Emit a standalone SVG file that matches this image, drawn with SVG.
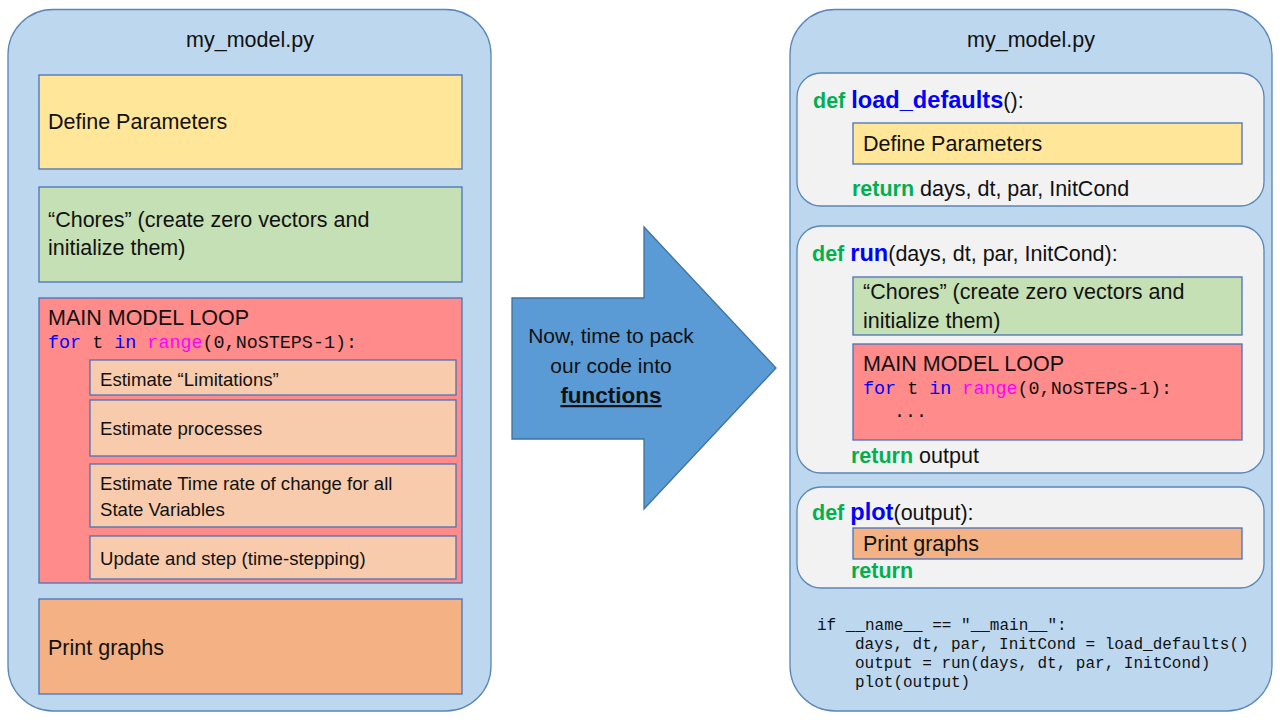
<svg xmlns="http://www.w3.org/2000/svg" width="1280" height="720" viewBox="0 0 1280 720">
<style>
.panel{fill:#BDD7EE;stroke:#5A86B8;stroke-width:1.3}
.func{fill:#F2F2F2;stroke:#5A86B8;stroke-width:1.3}
.box{stroke:#4A72B8;stroke-width:1.3}
.yel{fill:#FFE699}.grn{fill:#C5E0B4}.red{fill:#FF8B8B}.sub{fill:#F8CBAD}.org{fill:#F4B183}
text{font-family:"Liberation Sans",Arial,sans-serif;fill:#111}
.t{font-size:21.5px}.s{font-size:18.6px}
.mono{font-family:"Liberation Mono","Courier New",monospace;font-size:18.4px}
.code{font-family:"Liberation Mono","Courier New",monospace;font-size:16px}
.kw{fill:#0000FF}.rg{fill:#FF00FF}
.g{fill:#00B050;font-weight:bold}
.fn{fill:#0000FF;font-weight:bold;font-size:23.6px}
</style>
<rect width="1280" height="720" fill="#FFFFFF"/>

<g id="left-panel">
<rect class="panel" x="8" y="9.5" width="483" height="701.5" rx="45"/>
<text class="t" x="250" y="47" text-anchor="middle">my_model.py</text>
</g>
<g id="left-define">
<rect class="box yel" x="39" y="75" width="423" height="94"/>
<text class="t" x="48" y="129">Define Parameters</text>
</g>
<g id="left-chores">
<rect class="box grn" x="39" y="187" width="423" height="95"/>
<text class="t" x="48" y="227">“Chores” (create zero vectors and</text>
<text class="t" x="48" y="255">initialize them)</text>
</g>
<g id="left-loop">
<rect class="box red" x="39" y="298" width="423" height="285"/>
<text class="t" x="48" y="325">MAIN MODEL LOOP</text>
<text class="mono" x="48" y="348"><tspan class="kw">for</tspan> t <tspan class="kw">in</tspan> <tspan class="rg">range</tspan>(0,NoSTEPS-1):</text>
</g>
<g id="left-limitations">
<rect class="box sub" x="90" y="360" width="366" height="35"/>
<text class="s" x="100" y="386">Estimate “Limitations”</text>
</g>
<g id="left-processes">
<rect class="box sub" x="90" y="400" width="366" height="56"/>
<text class="s" x="100" y="435">Estimate processes</text>
</g>
<g id="left-rate">
<rect class="box sub" x="90" y="464" width="366" height="63"/>
<text class="s" x="100" y="490">Estimate Time rate of change for all</text>
<text class="s" x="100" y="516">State Variables</text>
</g>
<g id="left-update">
<rect class="box sub" x="90" y="536" width="366" height="43"/>
<text class="s" x="100" y="565">Update and step (time-stepping)</text>
</g>
<g id="left-print">
<rect class="box org" x="39" y="599" width="423" height="95"/>
<text class="t" x="48" y="655">Print graphs</text>
</g>

<g id="connectors">
<g id="arrow">
<polygon points="512,298 644,298 644,227 776,368 644,509 644,439 512,439" fill="#5B9BD5" stroke="#41719C" stroke-width="1.3"/>
<text x="611" y="343" text-anchor="middle" style="font-size:21px">Now, time to pack</text>
<text x="611" y="373" text-anchor="middle" style="font-size:21px">our code into</text>
<text x="611" y="403" text-anchor="middle" style="font-size:22.5px;font-weight:bold;text-decoration:underline">functions</text>
</g>
</g>

<g id="right-panel">
<rect class="panel" x="790" y="9.5" width="482" height="701.5" rx="45"/>
<text class="t" x="1031" y="47" text-anchor="middle">my_model.py</text>
</g>
<g id="load-defaults">
<rect class="func" x="797" y="73" width="467" height="133" rx="24"/>
<text class="t" x="813" y="108"><tspan class="g">def</tspan> <tspan class="fn">load_defaults</tspan>():</text>
<rect class="box yel" x="853" y="123" width="389" height="41"/>
<text class="t" x="863" y="151">Define Parameters</text>
<text class="t" x="852" y="196"><tspan class="g">return</tspan> days, dt, par, InitCond</text>
</g>
<g id="run">
<rect class="func" x="797" y="226" width="467" height="247" rx="24"/>
<text class="t" x="812" y="261"><tspan class="g">def</tspan> <tspan class="fn">run</tspan>(days, dt, par, InitCond):</text>
<rect class="box grn" x="853" y="277" width="389" height="58"/>
<text class="t" x="863" y="299">“Chores” (create zero vectors and</text>
<text class="t" x="863" y="328">initialize them)</text>
<rect class="box red" x="853" y="344" width="389" height="96"/>
<text class="t" x="863" y="371">MAIN MODEL LOOP</text>
<text class="mono" x="863" y="394"><tspan class="kw">for</tspan> t <tspan class="kw">in</tspan> <tspan class="rg">range</tspan>(0,NoSTEPS-1):</text>
<text class="mono" x="894" y="417">...</text>
<text class="t" x="851" y="463"><tspan class="g">return</tspan> output</text>
</g>
<g id="plot">
<rect class="func" x="797" y="487" width="467" height="101" rx="24"/>
<text class="t" x="812" y="520"><tspan class="g">def</tspan> <tspan class="fn">plot</tspan>(output):</text>
<rect class="box org" x="853" y="528" width="389" height="31"/>
<text class="t" x="863" y="551">Print graphs</text>
<text class="t g" x="851" y="578">return</text>
</g>
<g id="main-code">
<text class="code" x="817" y="630" xml:space="preserve">if __name__ == "__main__":</text>
<text class="code" x="855" y="649">days, dt, par, InitCond = load_defaults()</text>
<text class="code" x="855" y="668">output = run(days, dt, par, InitCond)</text>
<text class="code" x="855" y="687">plot(output)</text>
</g>
</svg>
